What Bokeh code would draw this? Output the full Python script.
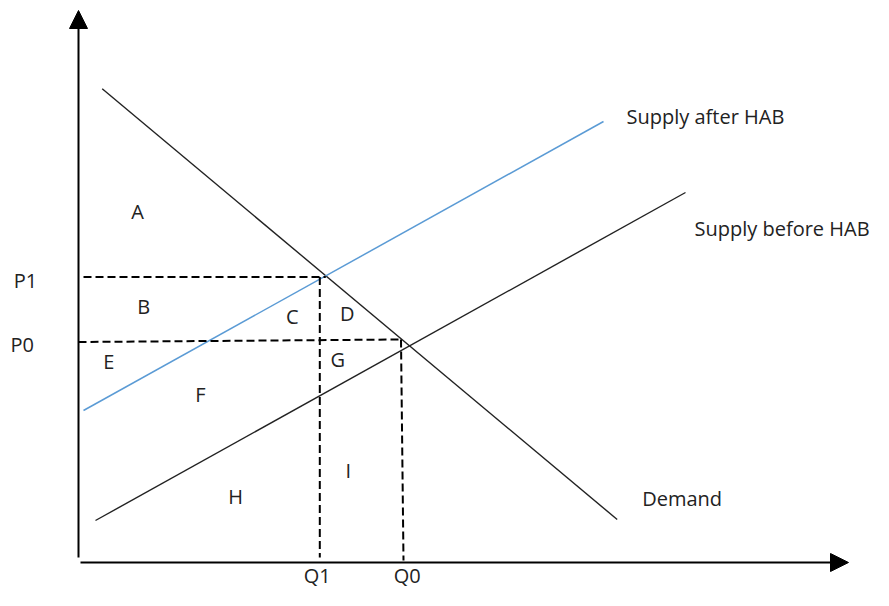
from bokeh.plotting import figure
from bokeh.models import Arrow, NormalHead
from bokeh.core.properties import value
from bokeh.embed import file_html
from bokeh.resources import INLINE

# ---- data (quantity on x, price on y; origin at the axes' corner) ----
demand_q = [23.7, 538.7]
demand_p = [473.7, 43.0]

supply_before_q = [17.0, 607.0]
supply_before_p = [42.0, 370.0]

supply_after_q = [5.0, 525.0]
supply_after_p = [152.0, 441.0]

P1 = 285.5
P0_left, P0_right = 220.5, 223.0
Q1 = 241.3
Q0_top, Q0_bottom = 322.5, 325.0

x_axis_start, x_axis_end = 2.0, 770.0
y_axis_start, y_axis_end = 5.0, 552.0

area_letters = ["A", "B", "C", "D", "E", "F", "G", "H", "I"]
area_q = [59.0, 65.3, 213.7, 268.7, 30.3, 122.0, 259.3, 157.0, 269.7]
area_p = [350.3, 255.3, 245.3, 247.7, 200.3, 167.0, 202.0, 65.0, 91.0]

price_ticks = ["P1", "P0"]
price_tick_q = [-53.0, -56.3]
price_tick_p = [281.0, 217.5]

qty_ticks = ["Q1", "Q0"]
qty_tick_q = [238.7, 328.7]
qty_tick_p = [-13.5, -13.5]

curve_labels = ["Supply after HAB", "Supply before HAB", "Demand"]
curve_label_q = [548.0, 616.0, 563.7]
curve_label_p = [438.0, 326.0, 56.0]

FONT = value("Open Sans")
FS = "20px"
CAP = 7     # half the cap height, to centre capitals on their point
SHIFT = 8   # renderer places alphabetic baselines this much lower

p = figure(width=873, height=590, x_range=(-78, 795), y_range=(-28, 562),
           output_backend="svg", toolbar_location=None,
           x_axis_location=None, y_axis_location=None, min_border=0)
p.grid.visible = False
p.outline_line_color = None
p.background_fill_color = "white"

# axes with arrowheads
p.add_layout(Arrow(end=NormalHead(size=18, fill_color="black", line_color="black"),
                   x_start=0, y_start=y_axis_start, x_end=0, y_end=y_axis_end,
                   line_width=2, line_color="black"))
p.add_layout(Arrow(end=NormalHead(size=18, fill_color="black", line_color="black"),
                   x_start=x_axis_start, y_start=0, x_end=x_axis_end, y_end=0,
                   line_width=2, line_color="black"))

# curves
p.line(demand_q, demand_p, line_color="#222222", line_width=1.4)
p.line(supply_before_q, supply_before_p, line_color="#222222", line_width=1.4)
p.line(supply_after_q, supply_after_p, line_color="#5B9BD5", line_width=1.5)

# dashed guides
dash = "8 4"
p.line([x_axis_start + 3, Q1 + 6], [P1, P1], line_color="black", line_width=2, line_dash=dash)
p.line([Q1, Q1], [P1, 5], line_color="black", line_width=2, line_dash=dash)
p.line([0, Q0_top], [P0_left, P0_right], line_color="black", line_width=2, line_dash=dash)
p.line([Q0_top, Q0_bottom], [P0_right, 2], line_color="black", line_width=2, line_dash=dash)

# letters
def caps(vals):
    return [v - CAP + SHIFT for v in vals]

p.text(x=area_q, y=caps(area_p), text=area_letters,
       text_font=FONT, text_font_size=FS, text_color="#222222",
       text_align="center", text_baseline="alphabetic")
p.text(x=price_tick_q, y=caps(price_tick_p), text=price_ticks,
       text_font=FONT, text_font_size=FS, text_color="#222222",
       text_align="center", text_baseline="alphabetic")
p.text(x=qty_tick_q, y=caps(qty_tick_p), text=qty_ticks,
       text_font=FONT, text_font_size=FS, text_color="#222222",
       text_align="center", text_baseline="alphabetic")
p.text(x=curve_label_q, y=[v + SHIFT for v in curve_label_p], text=curve_labels,
       text_font=FONT, text_font_size=FS, text_color="#222222",
       text_align="left", text_baseline="alphabetic")

open("out.html", "w").write(file_html(p, INLINE))
